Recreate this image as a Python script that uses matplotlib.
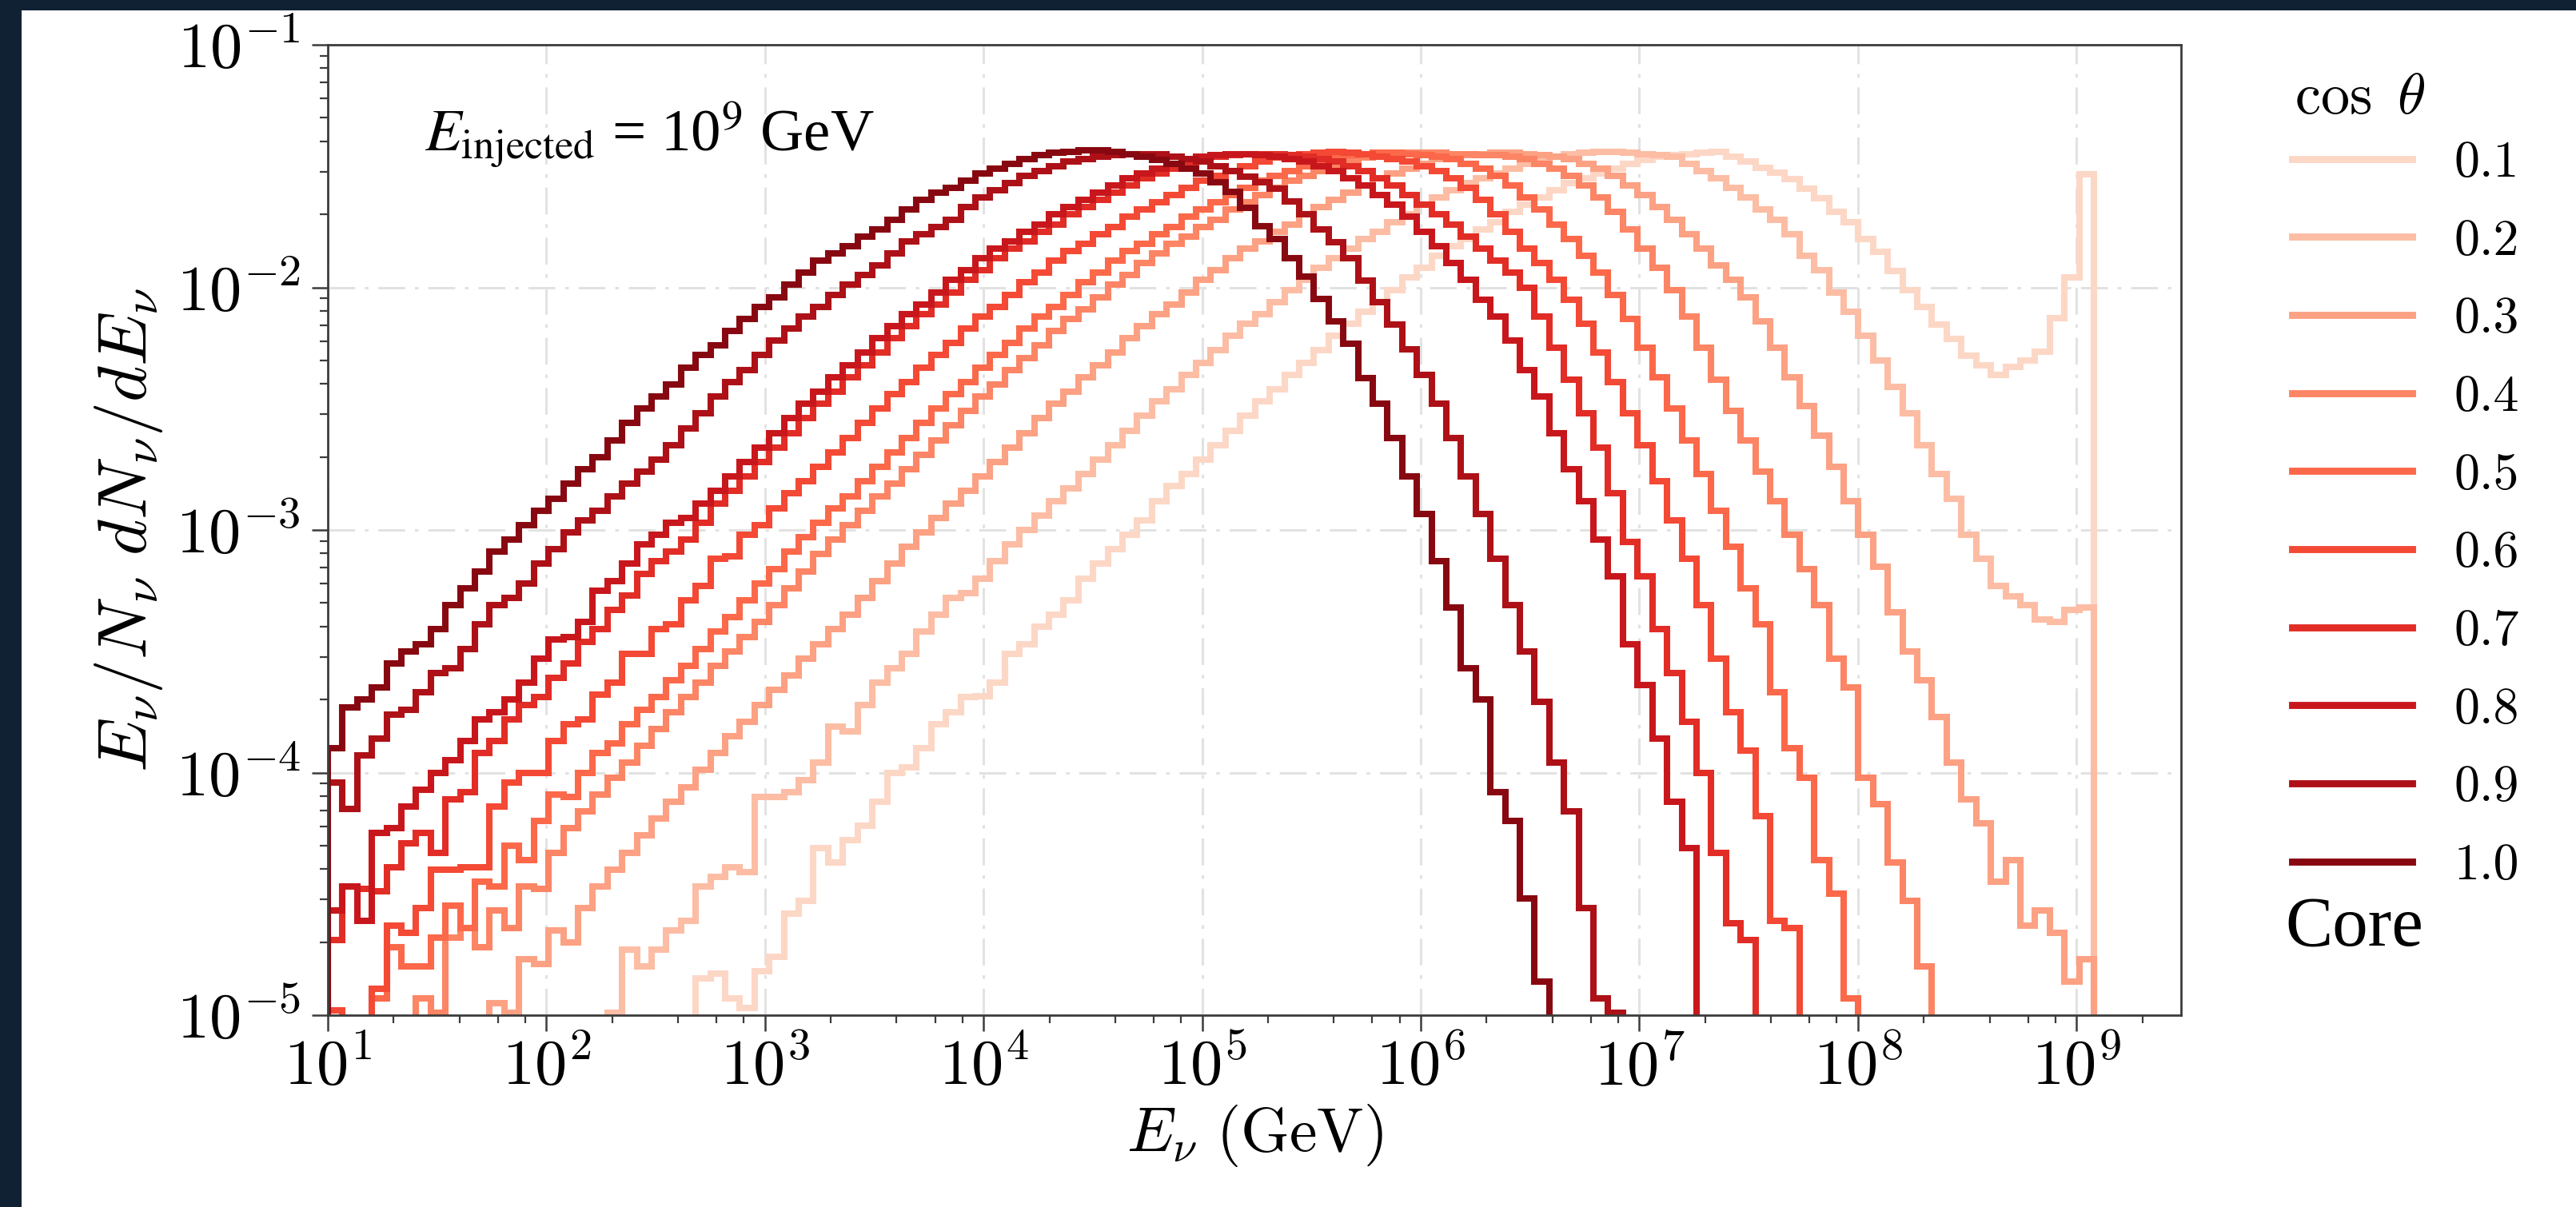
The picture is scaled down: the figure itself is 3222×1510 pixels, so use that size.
import numpy as np
import matplotlib
matplotlib.use('Agg')
import matplotlib.pyplot as plt
from matplotlib import ticker
from matplotlib.patches import Rectangle
from matplotlib.lines import Line2D

plt.rcParams['mathtext.fontset'] = 'cm'
plt.rcParams['font.family'] = 'serif'
plt.rcParams['font.serif'] = ['cmr10', 'DejaVu Serif']
plt.rcParams['axes.unicode_minus'] = False

N = None
# ---------------- data ----------------
cos_theta_labels = ['0.1', '0.2', '0.3', '0.4', '0.5', '0.6', '0.7', '0.8', '0.9', '1.0']
n_bins = 120
bin_edges = np.logspace(1, np.log10(1.2e9), n_bins + 1)   # E_nu bin edges (GeV)

# log10(E/N dN/dE) per bin (None = empty bin)
log_flux_cos10 = [
    -3.90, -3.73, -3.70, -3.65, -3.55, -3.50, -3.47, -3.41, -3.31, -3.24,
    -3.17, -3.09, -3.04, -2.98, -2.92, -2.87, -2.81, -2.75, -2.70, -2.63,
    -2.56, -2.50, -2.45, -2.40, -2.33, -2.28, -2.24, -2.18, -2.13, -2.08,
    -2.04, -1.99, -1.94, -1.89, -1.86, -1.83, -1.79, -1.76, -1.72, -1.68,
    -1.64, -1.61, -1.59, -1.56, -1.53, -1.51, -1.49, -1.47, -1.455, -1.445,
    -1.44, -1.435, -1.435, -1.44, -1.45, -1.46, -1.475, -1.49, -1.51, -1.53,
    -1.567, -1.606, -1.671, -1.749, -1.80, -1.879, -1.957, -2.048, -2.14, -2.231,
    -2.375, -2.478, -2.622, -2.778, -2.935, -3.13, -3.32, -3.57, -3.70, -4.08,
    -4.20, -4.52, -4.86]
log_flux_cos09 = [
    -4.04, -4.15, -3.93, -3.86, -3.76, -3.74, -3.67, -3.59, -3.57, -3.49,
    -3.39, -3.31, -3.28, -3.22, -3.14, -3.08, -3.01, -2.96, -2.92, -2.86,
    -2.81, -2.76, -2.71, -2.65, -2.58, -2.52, -2.45, -2.39, -2.34, -2.28,
    -2.22, -2.17, -2.12, -2.08, -2.03, -1.99, -1.95, -1.91, -1.86, -1.81,
    -1.78, -1.75, -1.72, -1.67, -1.63, -1.60, -1.57, -1.54, -1.52, -1.50,
    -1.48, -1.47, -1.46, -1.455, -1.45, -1.45, -1.45, -1.46, -1.47, -1.48,
    -1.50, -1.52, -1.545, -1.567, -1.593, -1.645, -1.697, -1.762, -1.814, -1.879,
    -1.971, -2.062, -2.153, -2.257, -2.361, -2.479, -2.622, -2.778, -2.935, -3.12,
    -3.31, -3.50, -3.71, -3.96, -4.16, -4.56, -4.93, -4.99]
log_flux_cos08 = [
    -4.57, -4.47, -4.61, -4.25, -4.23, -4.14, -4.07, -4.00, -3.95, -3.87,
    -3.78, -3.75, -3.70, -3.63, -3.53, -3.45, -3.44, -3.38, -3.25, -3.21,
    -3.14, -3.06, -3.02, -2.97, -2.95, -2.89, -2.84, -2.78, -2.72, -2.66,
    -2.60, -2.54, -2.48, -2.43, -2.37, -2.32, -2.27, -2.21, -2.16, -2.11,
    -2.07, -2.02, -1.97, -1.93, -1.88, -1.84, -1.81, -1.77, -1.74, -1.70,
    -1.67, -1.64, -1.61, -1.58, -1.55, -1.53, -1.51, -1.49, -1.47, -1.46,
    -1.455, -1.45, -1.45, -1.455, -1.46, -1.47, -1.48, -1.50, -1.52, -1.55,
    -1.58, -1.62, -1.66, -1.71, -1.77, -1.83, -1.90, -1.97, -2.05, -2.12,
    -2.22, -2.34, -2.45, -2.60, -2.75, -2.88, -3.04, -3.19, -3.47, -3.64,
    -3.86, -4.12, -4.31]
log_flux_cos07 = [
    -4.69, -4.47, -4.48, -4.49, -4.39, -4.29, -4.25, -4.33, -4.11, -4.08,
    -3.92, -3.87, -3.78, -3.72, -3.69, -3.61, -3.55, -3.46, -3.41, -3.33,
    -3.27, -3.18, -3.13, -3.09, -3.04, -2.97, -2.89, -2.84, -2.78, -2.72,
    -2.66, -2.60, -2.54, -2.48, -2.43, -2.37, -2.32, -2.27, -2.21, -2.16,
    -2.11, -2.07, -2.02, -1.97, -1.93, -1.88, -1.84, -1.81, -1.77, -1.74,
    -1.70, -1.67, -1.64, -1.61, -1.58, -1.55, -1.53, -1.51, -1.49, -1.47,
    -1.46, -1.455, -1.45, -1.45, -1.45, -1.455, -1.46, -1.47, -1.48, -1.50,
    -1.52, -1.55, -1.58, -1.62, -1.66, -1.70, -1.74, -1.79, -1.84, -1.89,
    -1.94, -2.00, -2.12, -2.25, -2.38, -2.52, -2.66, -2.85, -3.05, -3.19,
    -3.41, -3.59, -3.79, -4.00, -4.33, -4.62, -4.69]
log_flux_cos06 = [
    -4.98, N, N, -4.89, -4.63, -4.66, -4.56, -4.40, -4.40, -4.39,
    -4.39, -4.14, -4.04, -4.00, -4.00, -3.87, -3.80, -3.78, -3.68, -3.63,
    -3.51, -3.51, -3.41, -3.39, -3.29, -3.23, -3.12, -3.11, -3.02, -2.98,
    -2.91, -2.85, -2.80, -2.74, -2.68, -2.62, -2.56, -2.50, -2.44, -2.39,
    -2.33, -2.28, -2.23, -2.17, -2.12, -2.08, -2.03, -1.98, -1.94, -1.89,
    -1.85, -1.82, -1.78, -1.75, -1.71, -1.68, -1.65, -1.62, -1.59, -1.56,
    -1.54, -1.52, -1.50, -1.48, -1.465, -1.455, -1.45, -1.445, -1.44, -1.445,
    -1.45, -1.46, -1.47, -1.48, -1.50, -1.52, -1.55, -1.59, -1.64, -1.70,
    -1.77, -1.84, -1.90, -1.97, -2.05, -2.15, -2.27, -2.39, -2.52, -2.65,
    -2.80, -2.96, -3.12, -3.31, -3.53, -3.75, -3.91, -4.18, -4.61, -4.64]
log_flux_cos05 = [
    N, N, N, -4.93, -4.72, -4.80, -4.80, -4.68, -4.55, -4.64,
    -4.45, -4.47, -4.30, -4.36, -4.20, -4.09, -4.10, -4.00, -3.92, -3.88,
    -3.80, -3.74, -3.69, -3.62, -3.56, -3.49, -3.42, -3.36, -3.29, -3.22,
    -3.16, -3.09, -3.03, -2.97, -2.91, -2.86, -2.80, -2.74, -2.68, -2.62,
    -2.56, -2.50, -2.44, -2.39, -2.33, -2.28, -2.23, -2.17, -2.12, -2.08,
    -2.03, -1.98, -1.94, -1.89, -1.85, -1.82, -1.78, -1.75, -1.71, -1.68,
    -1.65, -1.62, -1.59, -1.56, -1.54, -1.52, -1.50, -1.48, -1.465, -1.455,
    -1.45, -1.445, -1.445, -1.45, -1.455, -1.46, -1.47, -1.49, -1.51, -1.54,
    -1.58, -1.63, -1.68, -1.74, -1.80, -1.87, -1.94, -2.03, -2.13, -2.25,
    -2.37, -2.50, -2.63, -2.77, -2.92, -3.07, -3.24, -3.39, -3.67, -3.90,
    -4.02, -4.36, -4.50, -4.93]
log_flux_cos04 = [
    N, N, N, N, N, N, -4.93, -4.99, -4.68, -4.64,
    -4.72, -4.57, -4.64, -4.47, -4.48, -4.33, -4.23, -4.16, -4.09, -4.02,
    -3.96, -3.89, -3.82, -3.75, -3.69, -3.63, -3.56, -3.50, -3.44, -3.38,
    -3.31, -3.24, -3.17, -3.10, -3.04, -2.98, -2.92, -2.86, -2.81, -2.75,
    -2.69, -2.63, -2.57, -2.51, -2.45, -2.40, -2.34, -2.29, -2.24, -2.18,
    -2.13, -2.09, -2.04, -1.99, -1.95, -1.90, -1.86, -1.82, -1.79, -1.75,
    -1.72, -1.68, -1.65, -1.62, -1.59, -1.56, -1.54, -1.52, -1.50, -1.48,
    -1.465, -1.455, -1.45, -1.445, -1.445, -1.445, -1.45, -1.45, -1.455, -1.455,
    -1.46, -1.47, -1.49, -1.51, -1.54, -1.58, -1.63, -1.69, -1.76, -1.84,
    -1.92, -2.01, -2.12, -2.25, -2.38, -2.51, -2.63, -2.76, -2.88, -3.02,
    -3.16, -3.31, -3.53, -3.65, -4.02, -4.13, -4.37, -4.53, -4.80]
log_flux_cos03 = [
    N, N, N, N, N, N, N, N, N, N,
    N, -4.95, -4.99, -4.77, -4.79, -4.65, -4.70, -4.56, -4.47, -4.40,
    -4.33, -4.26, -4.19, -4.12, -4.06, -3.99, -3.92, -3.85, -3.79, -3.72,
    -3.66, -3.60, -3.53, -3.47, -3.41, -3.35, -3.28, -3.21, -3.14, -3.07,
    -3.01, -2.95, -2.89, -2.84, -2.78, -2.72, -2.66, -2.60, -2.54, -2.48,
    -2.43, -2.37, -2.32, -2.27, -2.21, -2.16, -2.11, -2.07, -2.02, -1.97,
    -1.93, -1.88, -1.84, -1.81, -1.77, -1.74, -1.70, -1.67, -1.64, -1.61,
    -1.58, -1.55, -1.53, -1.51, -1.49, -1.47, -1.46, -1.455, -1.45, -1.445,
    -1.445, -1.45, -1.455, -1.46, -1.47, -1.49, -1.51, -1.54, -1.58, -1.62,
    -1.67, -1.72, -1.78, -1.84, -1.91, -1.97, -2.04, -2.14, -2.25, -2.37,
    -2.49, -2.61, -2.74, -2.88, -3.02, -3.15, -3.34, -3.50, -3.62, -3.77,
    -3.96, -4.11, -4.21, -4.45, -4.36, -4.63, -4.57, -4.66, -4.86, -4.77]
log_flux_cos02 = [
    N, N, N, N, N, N, N, N, N, N,
    N, N, N, N, N, N, N, N, N, -4.99,
    -4.73, -4.80, -4.73, -4.65, -4.61, -4.47, -4.43, -4.39, -4.41, -4.10,
    -4.10, -4.08, -4.03, -3.96, -3.81, -3.83, -3.72, -3.63, -3.57, -3.51,
    -3.42, -3.35, -3.28, -3.26, -3.20, -3.13, -3.06, -3.00, -2.94, -2.88,
    -2.83, -2.77, -2.71, -2.65, -2.59, -2.53, -2.47, -2.42, -2.36, -2.31,
    -2.26, -2.20, -2.15, -2.11, -2.06, -2.01, -1.97, -1.92, -1.88, -1.84,
    -1.80, -1.77, -1.73, -1.70, -1.66, -1.63, -1.60, -1.57, -1.55, -1.53,
    -1.51, -1.49, -1.47, -1.46, -1.45, -1.445, -1.44, -1.44, -1.445, -1.45,
    -1.455, -1.46, -1.49, -1.52, -1.55, -1.59, -1.63, -1.68, -1.72, -1.78,
    -1.87, -1.93, -2.02, -2.10, -2.20, -2.30, -2.41, -2.52, -2.65, -2.77,
    -2.87, -3.02, -3.12, -3.23, -3.275, -3.31, -3.37, -3.38, -3.33, -3.32]
log_flux_cos01 = [
    N, N, N, N, N, N, N, N, N, N,
    N, N, N, N, N, N, N, N, N, N,
    N, N, N, N, N, -4.85, -4.83, -4.93, -4.97, -4.82,
    -4.76, -4.58, -4.53, -4.31, -4.37, -4.28, -4.22, -4.12, -4.00, -3.98,
    -3.90, -3.80, -3.75, -3.69, -3.685, -3.63, -3.51, -3.47, -3.40, -3.35,
    -3.29, -3.20, -3.14, -3.08, -3.02, -2.96, -2.88, -2.82, -2.77, -2.71,
    -2.65, -2.59, -2.53, -2.47, -2.42, -2.36, -2.31, -2.26, -2.20, -2.15,
    -2.10, -2.06, -2.01, -1.96, -1.92, -1.87, -1.83, -1.80, -1.76, -1.73,
    -1.69, -1.66, -1.63, -1.60, -1.57, -1.55, -1.53, -1.51, -1.49, -1.475,
    -1.46, -1.455, -1.45, -1.445, -1.443, -1.462, -1.482, -1.508, -1.528, -1.554,
    -1.593, -1.632, -1.69, -1.73, -1.80, -1.853, -1.931, -2.01, -2.081, -2.153,
    -2.212, -2.283, -2.322, -2.361, -2.329, -2.303, -2.264, -2.127, -1.958, -1.534]

series = [log_flux_cos01, log_flux_cos02, log_flux_cos03, log_flux_cos04, log_flux_cos05,
          log_flux_cos06, log_flux_cos07, log_flux_cos08, log_flux_cos09, log_flux_cos10]


def to_values(lst):
    arr = [np.nan if v is None else v for v in lst]
    arr = np.array(arr + [np.nan] * (n_bins - len(arr)), dtype=float)[:n_bins]
    return np.where(np.isnan(arr), 0.0, 10.0 ** np.nan_to_num(arr, nan=0.0))


# ---------------- figure ----------------
W, H = 3222, 1510
DPI = 200
fig = plt.figure(figsize=(W / DPI, H / DPI), dpi=DPI)
fig.patch.set_facecolor('white')

navy = '#102133'
fig.patches.append(Rectangle((0, 0), 27 / W, 1, transform=fig.transFigure,
                             facecolor=navy, edgecolor='none', zorder=-5))
fig.patches.append(Rectangle((0, 1 - 13 / H), 1, 13 / H, transform=fig.transFigure,
                             facecolor=navy, edgecolor='none', zorder=-5))

ax_l, ax_r, ax_t, ax_b = 410, 2728, 56, 1270
ax = fig.add_axes([ax_l / W, 1 - ax_b / H, (ax_r - ax_l) / W, (ax_b - ax_t) / H])
ax.set_xscale('log')
ax.set_yscale('log')

colors = plt.cm.Reds(np.linspace(0.16, 0.93, 10))
LW = 2.9
for vals, col in zip(series, colors):
    ax.stairs(to_values(vals), bin_edges, color=col, linewidth=LW, baseline=0)

ax.set_xlim(10, 10 ** 9.478)
ax.set_ylim(1e-5, 1e-1)

fmt = ticker.FuncFormatter(lambda v, p: r'$10^{%d}$' % int(round(np.log10(v))))
ax.xaxis.set_major_locator(ticker.LogLocator(base=10, numticks=40))
ax.xaxis.set_minor_locator(ticker.LogLocator(base=10, subs=(2, 4, 6, 8), numticks=40))
ax.yaxis.set_major_locator(ticker.LogLocator(base=10, numticks=40))
ax.yaxis.set_minor_locator(ticker.LogLocator(base=10, subs=np.arange(2, 10), numticks=40))
ax.xaxis.set_major_formatter(fmt)
ax.yaxis.set_major_formatter(fmt)
ax.xaxis.set_minor_formatter(ticker.NullFormatter())
ax.yaxis.set_minor_formatter(ticker.NullFormatter())

spine_col = '#3c3c3c'
for s in ax.spines.values():
    s.set_linewidth(1.0)
    s.set_color(spine_col)
ax.tick_params(which='major', direction='out', length=7.2, width=0.9, color=spine_col,
               labelsize=29)
ax.tick_params(which='minor', direction='out', length=3.6, width=0.8, color=spine_col)
ax.tick_params(axis='x', which='major', pad=3)
ax.tick_params(axis='y', which='major', pad=5)

ax.grid(True, which='major', color='#e2e2e2', linewidth=1.1, linestyle=(0, (11, 4, 1.5, 4)))
ax.set_axisbelow(True)

ax.set_xlabel(r'$E_\nu\ (\mathrm{GeV})$', fontsize=28, labelpad=2)
ax.set_ylabel(r'$E_\nu/N_\nu\ dN_\nu/dE_\nu$', fontsize=31, labelpad=5)

ax.text(0.052, 0.891, r'$E_{\mathrm{injected}}$ = 10$^{9}$ GeV', transform=ax.transAxes,
        fontsize=27, family='Liberation Serif', math_fontfamily='stix',
        ha='left', va='baseline')

# ---- legend (rows placed to match reference spacing) ----
LEG_X = 2867
ROW0_Y, ROW9_Y = 205, 1084
leg_fs = 23
leg_fs_px = leg_fs * DPI / 72.0
handles = [Line2D([], [], color=c, linewidth=LW * 1.1) for c in colors]


def make_legend(spacing, top_px):
    return ax.legend(handles, cos_theta_labels, loc='upper left',
                     bbox_to_anchor=(LEG_X / W, 1 - top_px / H), bbox_transform=fig.transFigure,
                     frameon=False, fontsize=leg_fs, handlelength=2.35,
                     handletextpad=0.82, labelspacing=spacing, borderpad=0, borderaxespad=0)


spacing, top = 0.7, 175.0
leg = make_legend(spacing, top)
for _ in range(3):
    fig.canvas.draw()
    r = fig.canvas.get_renderer()
    ys = [H - 0.5 * (t.get_window_extent(r).y0 + t.get_window_extent(r).y1) for t in leg.get_texts()]
    pitch = (ys[-1] - ys[0]) / 9.0
    spacing += ((ROW9_Y - ROW0_Y) / 9.0 - pitch) / leg_fs_px
    top += ROW0_Y - ys[0]
    leg.remove()
    leg = make_legend(spacing, top)

fig.text(2870 / W, 1 - 124 / H, r'$\cos\ \theta$', fontsize=26, ha='left', va='center')
fig.text(2858 / W, 1 - 1183 / H, 'Core', fontsize=32, family='Liberation Serif',
         ha='left', va='baseline')

fig.savefig('out.png', dpi=DPI, facecolor=fig.get_facecolor())
